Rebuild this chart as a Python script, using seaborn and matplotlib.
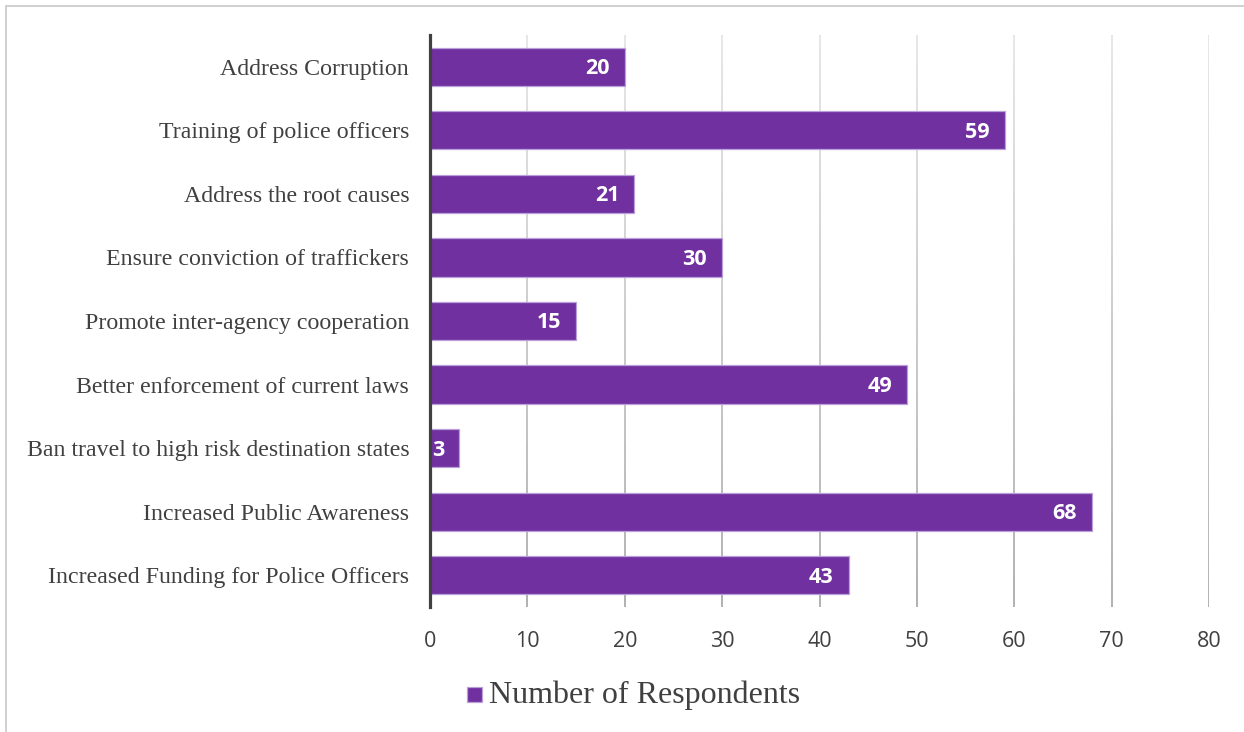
import numpy as np
import pandas as pd
import matplotlib
matplotlib.use("Agg")
import matplotlib.pyplot as plt
import seaborn as sns
from matplotlib.collections import LineCollection
from matplotlib.patches import Rectangle
import matplotlib.colors as mcolors

categories = [
    "Address Corruption",
    "Training of police officers",
    "Address the root causes",
    "Ensure conviction of traffickers",
    "Promote inter-agency cooperation",
    "Better enforcement of current laws",
    "Ban travel to high risk destination states",
    "Increased Public Awareness",
    "Increased Funding for Police Officers",
]
values = [20, 59, 21, 30, 15, 49, 3, 68, 43]
series_name = "Number of Respondents"
x_ticks = [0, 10, 20, 30, 40, 50, 60, 70, 80]

df = pd.DataFrame({"category": categories, "value": values})

sns.set_theme(style="white")
plt.rcParams["font.family"] = ["Liberation Serif", "DejaVu Serif"]

W, H = 1244, 732
fig = plt.figure(figsize=(W / 100, H / 100), dpi=100)
ax = fig.add_axes([430 / W, 1 - 607 / H, (1209 - 430) / W, (607 - 35) / H])

bar_color = "#7030A0"
sns.barplot(data=df, x="value", y="category", orient="h", color=bar_color,
            width=0.6, saturation=1, edgecolor="#B9A0D8", linewidth=0.9,
            ax=ax, zorder=3)

ax.set_xlim(0, 80)
ax.set_ylim(len(categories) - 0.5, -0.5)
ax.set_xticks(x_ticks)
ax.set_xticklabels([str(t) for t in x_ticks], family="Open Sans",
                   fontsize=15.5, color="#404040")
ax.set_yticks(range(len(categories)))
ax.set_yticklabels(categories, fontsize=17.2, color="#404040",
                   family="Liberation Serif")
ax.tick_params(axis="x", length=0, pad=17.5)
ax.tick_params(axis="y", length=0, pad=15)
ax.set_xlabel("")
ax.set_ylabel("")
for s in ["top", "right", "bottom"]:
    ax.spines[s].set_visible(False)
ax.spines["left"].set_color("#404040")
ax.spines["left"].set_linewidth(2.3)
ax.spines["left"].set_zorder(5)
ax.grid(False)

# gradient gridlines (light at top, darker at bottom)
top_c = np.array(mcolors.to_rgb("#E0E0E0"))
bot_c = np.array(mcolors.to_rgb("#9C9C9C"))
n = 60
ys = np.linspace(-0.5, len(categories) - 0.5, n + 1)
segs, cols = [], []
for t in x_ticks[1:]:
    for i in range(n):
        segs.append([(t, ys[i]), (t, ys[i + 1])])
        f = i / (n - 1)
        cols.append(top_c * (1 - f) + bot_c * f)
ax.add_collection(LineCollection(segs, colors=cols, linewidths=1.1, zorder=1))

# value labels
for i, v in enumerate(values):
    ax.annotate(str(v), xy=(v, i), xytext=(-15, -2), textcoords="offset pixels",
                ha="right", va="center", color="white", fontsize=15.5,
                fontweight="bold", family="Open Sans", zorder=6)

# legend
fig.patches.append(Rectangle((467 / W, 1 - 702 / H), 15 / W, 15 / H,
                             transform=fig.transFigure, facecolor=bar_color,
                             edgecolor="#B9A0D8", linewidth=0.9))
fig.text(489 / W, 1 - 695 / H, series_name, fontsize=23, color="#404040",
         family="Liberation Serif", va="center", ha="left")

# outer frame
fig.patches.append(Rectangle((6 / W, -0.05), 1.2, 1 - 6 / H + 0.05,
                             transform=fig.transFigure, fill=False,
                             edgecolor="#C8C8C8", linewidth=1.2))

fig.savefig("out.png", dpi=100)
